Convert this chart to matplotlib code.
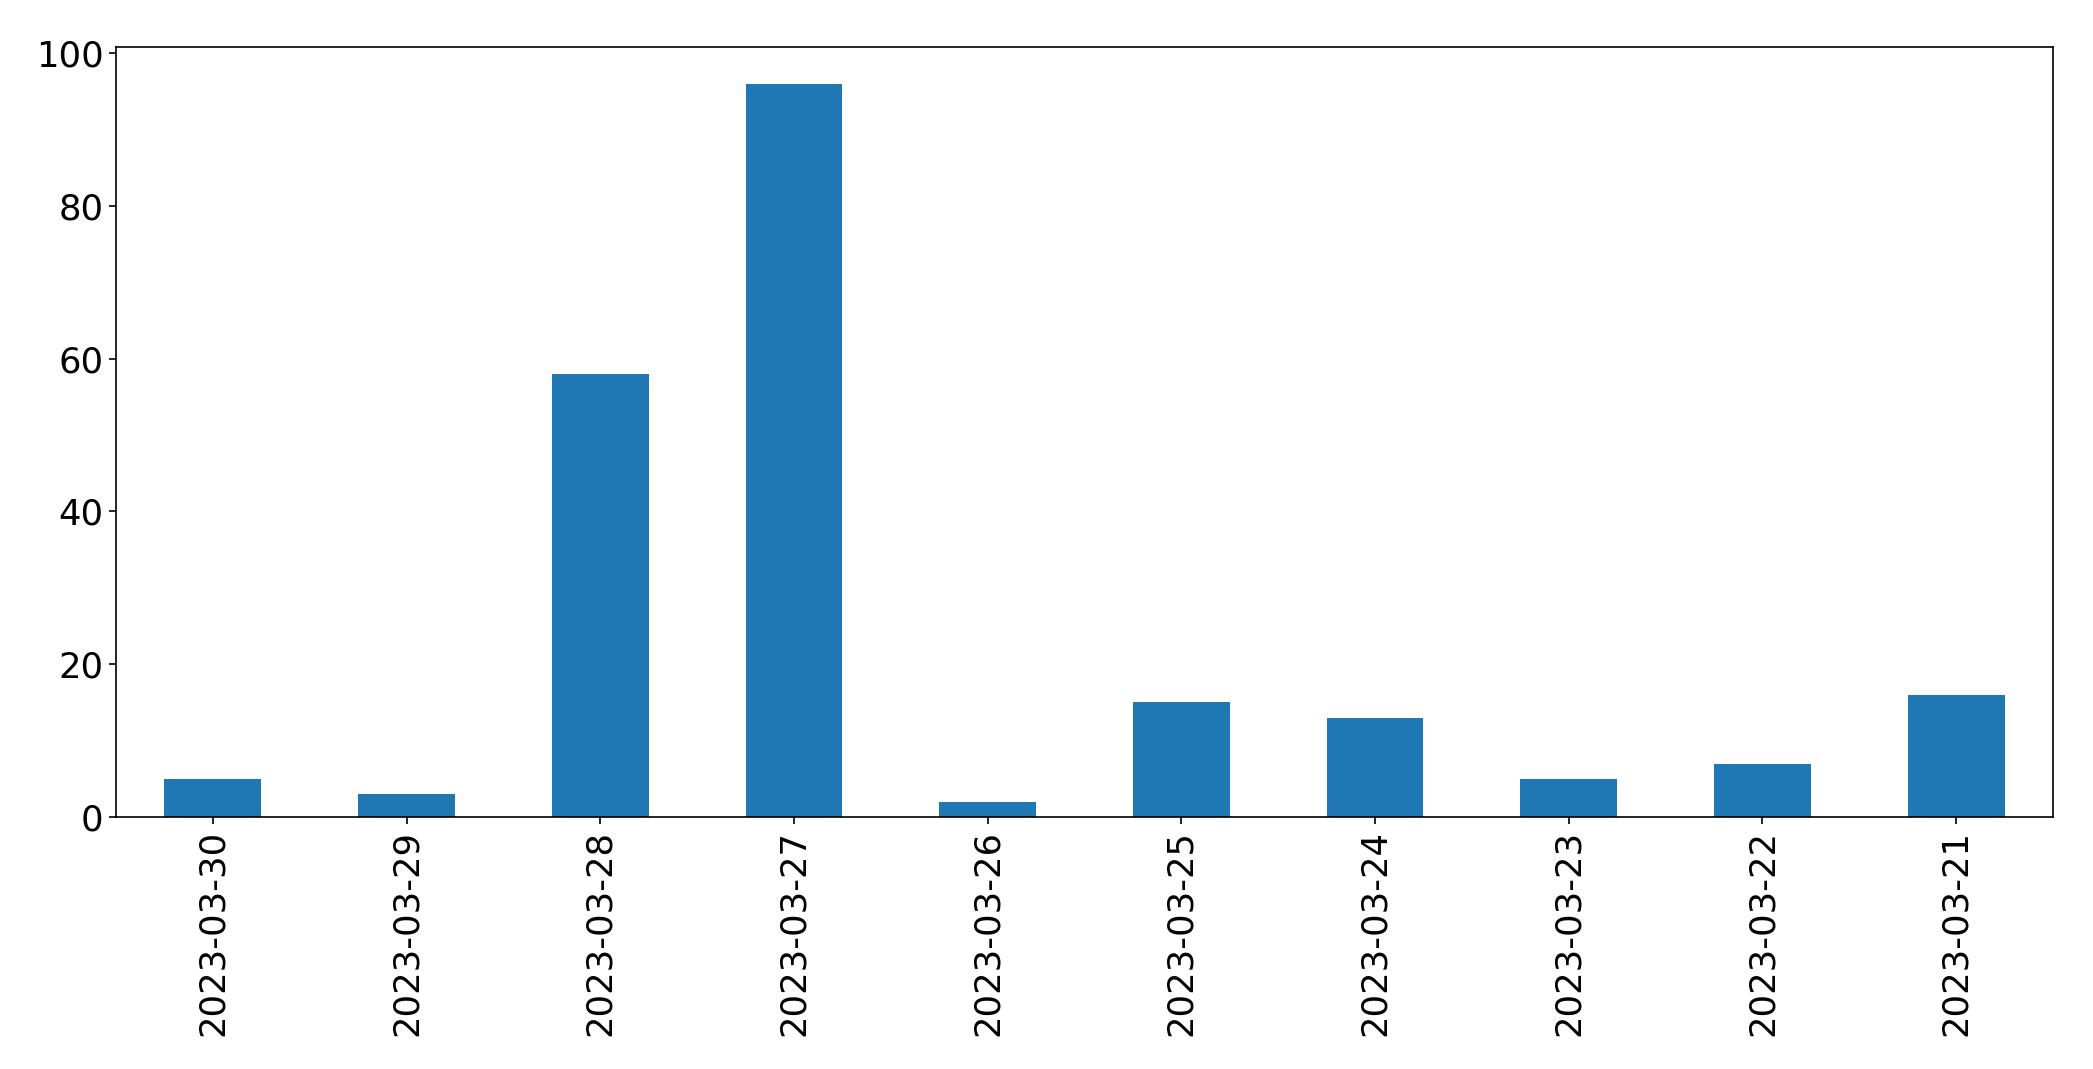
import pandas as pd
import matplotlib
matplotlib.use('Agg')
import matplotlib.pyplot as plt

fechas = ['2023-03-30', '2023-03-29', '2023-03-28', '2023-03-27', '2023-03-26',
          '2023-03-25', '2023-03-24', '2023-03-23', '2023-03-22', '2023-03-21']
conteos = [5, 3, 58, 96, 2, 15, 13, 5, 7, 16]

serie = pd.Series(conteos, index=fechas)

fig, ax = plt.subplots(figsize=(20.93, 10.69), dpi=100)
serie.plot(kind='bar', ax=ax, color='#1f77b4')
ax.tick_params(axis='both', labelsize=25.5, length=5, width=1.2, pad=4)
for s in ax.spines.values():
    s.set_linewidth(1.2)
plt.subplots_adjust(left=116/2093, right=2053/2093, top=1-47/1069, bottom=1-817/1069)
plt.savefig('out.png', dpi=100)
